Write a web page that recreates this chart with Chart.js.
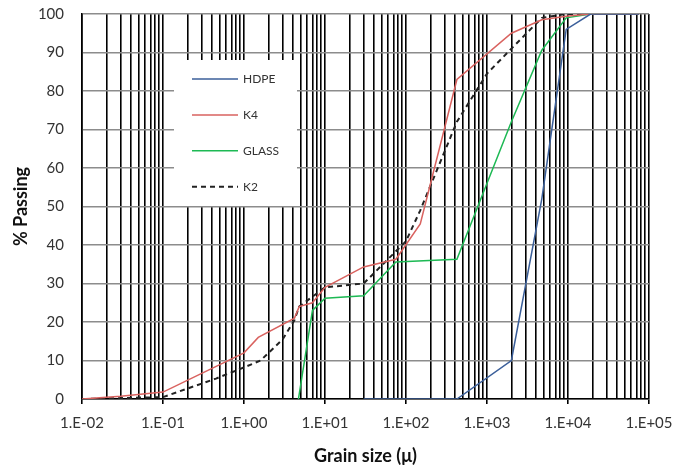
<!DOCTYPE html>
<html>
<head>
<meta charset="utf-8">
<script src="https://cdn.jsdelivr.net/npm/chart.js@4/dist/chart.umd.min.js"></script>
<style>
  html, body { margin: 0; background: #fff; }
</style>
</head>
<body>
<canvas id="chart" width="692" height="470"></canvas>
<script>
// grain size (micron) / % passing
const hdpeSize = [30, 425, 2000, 4750, 9500, 19000, 75000];
const hdpePass = [0, 0, 10, 52, 96, 100, 100];

const k4Size = [0.01, 0.03, 0.1, 1, 1.5, 4.2, 4.8, 7, 10, 30, 75, 150, 425, 2000, 4750, 9500, 19000, 75000];
const k4Pass = [0, 0.7, 1.8, 12, 16, 21, 24, 25, 29, 34.3, 36.3, 45.5, 83, 95, 98.5, 99.4, 100, 100];

const glassSize = [4.7, 7, 10, 30, 75, 425, 2000, 4750, 9500, 19000, 75000];
const glassPass = [0, 23, 26.2, 26.8, 35.6, 36.3, 72, 90.6, 99, 100, 100];

const k2Size = [0.01, 0.1, 0.2, 0.45, 1, 1.6, 3, 4.2, 4.8, 10, 30, 100, 150, 425, 1000, 2000, 4750, 9500, 75000];
const k2Pass = [0, 0.5, 2.7, 5.3, 8.2, 10, 15.5, 20.5, 24, 29, 30, 41, 49, 72, 84.5, 91, 99, 100, 100];

const seriesNames = ["HDPE", "K4", "GLASS", "K2"];
const yTicks = [0, 100, 10]; // min, max, step
const xDecades = [-2, 5];

const toPoints = (xs, ys) => xs.map((v, i) => ({ x: v, y: ys[i] }));

const isDecade = (v) => {
  const e = Math.log10(v);
  return Math.abs(e - Math.round(e)) < 1e-9;
};

const legendBox = {
  id: "legendBox",
  beforeDatasetsDraw(chart) {
    const ctx = chart.ctx;
    ctx.save();
    ctx.fillStyle = "#fff";
    ctx.fillRect(174, 60, 123, 146);
    chart.data.datasets.forEach((ds, i) => {
      const yy = 79 + i * 35.9;
      ctx.strokeStyle = ds.borderColor;
      ctx.lineWidth = ds.borderWidth;
      ctx.setLineDash(ds.borderDash || []);
      ctx.beginPath();
      ctx.moveTo(192, yy);
      ctx.lineTo(238, yy);
      ctx.stroke();
      ctx.setLineDash([]);
      ctx.fillStyle = "#333";
      ctx.font = "12px Lato";
      ctx.textBaseline = "middle";
      ctx.fillText(ds.label, 243, yy);
    });
    ctx.restore();
  }
};

new Chart(document.getElementById("chart"), {
  type: "line",
  data: {
    datasets: [
      { label: seriesNames[0], data: toPoints(hdpeSize, hdpePass), borderColor: "#3b5f9a", borderWidth: 1.5 },
      { label: seriesNames[1], data: toPoints(k4Size, k4Pass), borderColor: "#d9625f", borderWidth: 1.5 },
      { label: seriesNames[2], data: toPoints(glassSize, glassPass), borderColor: "#1db954", borderWidth: 1.5 },
      { label: seriesNames[3], data: toPoints(k2Size, k2Pass), borderColor: "#222", borderWidth: 2, borderDash: [5, 4] }
    ]
  },
  options: {
    responsive: false,
    animation: false,
    layout: { padding: { top: 14, right: 43, left: 0, bottom: 0 } },
    elements: { point: { radius: 0 }, line: { tension: 0 } },
    plugins: { legend: { display: false }, tooltip: { enabled: false } },
    scales: {
      x: {
        type: "logarithmic",
        min: Math.pow(10, xDecades[0]),
        max: Math.pow(10, xDecades[1]),
        afterBuildTicks: (s) => {
          const t = [];
          for (let e = xDecades[0]; e < xDecades[1]; e++) {
            for (let m = 1; m <= 9; m++) t.push({ value: Number((m * Math.pow(10, e)).toPrecision(3)) });
          }
          t.push({ value: Math.pow(10, xDecades[1]) });
          s.ticks = t;
        },
        afterFit: (s) => { s.height = 71; },
        ticks: {
          autoSkip: false,
          maxRotation: 0,
          padding: 10,
          color: "#333",
          font: { family: "Lato", size: 15 },
          callback: (v) => {
            if (!isDecade(v)) return "";
            const n = Math.round(Math.log10(v));
            return "1.E" + (n < 0 ? "-" : "+") + String(Math.abs(n)).padStart(2, "0");
          }
        },
        grid: {
          color: "#000",
          lineWidth: 1.6,
          tickLength: 5,
          tickColor: (c) => (c.tick && isDecade(c.tick.value) ? "#000" : "rgba(0,0,0,0)")
        },
        border: { color: "#000", width: 1.6 },
        title: {
          display: true,
          text: "Grain size (μ)",
          color: "#111",
          font: { family: "Lato", size: 18, weight: "bold" },
          padding: { top: 0, bottom: 3 }
        }
      },
      y: {
        min: yTicks[0],
        max: yTicks[1],
        afterFit: (s) => { s.width = 82; },
        ticks: {
          stepSize: yTicks[2],
          padding: 0,
          color: "#333",
          font: { family: "Lato", size: 15 }
        },
        grid: { color: "#8c8c8c", lineWidth: 1.5, tickLength: 18, tickColor: "rgba(0,0,0,0)" },
        border: { color: "#000", width: 1.6 },
        title: {
          display: true,
          text: "% Passing",
          color: "#111",
          font: { family: "Lato", size: 18, weight: "bold" },
          padding: { top: 10, bottom: 0 }
        }
      }
    }
  },
  plugins: [legendBox]
});
</script>
</body>
</html>
